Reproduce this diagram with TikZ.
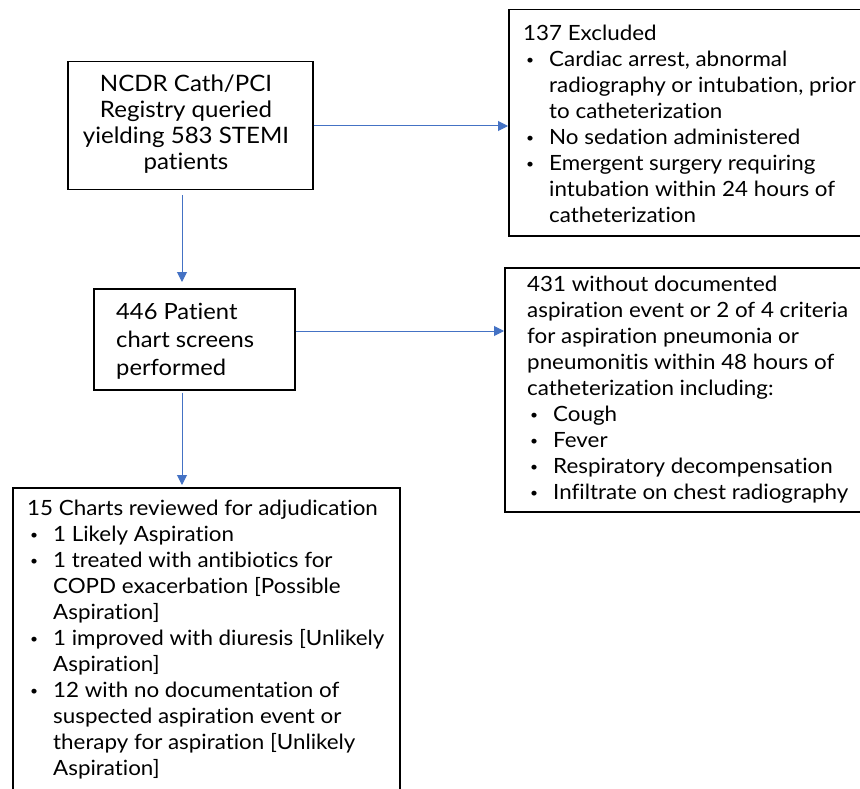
\documentclass[tikz,border=0pt]{standalone}
\usepackage{fontspec}
\setmainfont{Lato}[Ligatures=NoCommon, FakeStretch=1.065]
\usetikzlibrary{arrows.meta}
\definecolor{arrowblue}{HTML}{4472C4}
\newcommand{\fl}{\rule{0pt}{20pt}}
\newcommand{\bl}{\makebox[26pt][l]{\hspace{3pt}\raisebox{2pt}{\fontsize{13}{13}\selectfont\textbullet}}}
\newcommand{\ind}{\makebox[26pt]{}}
\begin{document}
\begin{tikzpicture}[x=1pt,y=-1pt,
  box/.style={draw=black, line width=1.5pt, inner sep=0pt, anchor=north west},
  txt/.style={inner sep=0pt, anchor=north west, align=left, font=\fontsize{21}{26}\selectfont},
  arr/.style={draw=arrowblue, line width=1pt, -{Triangle[length=10pt,width=10pt]}}]
\useasboundingbox (0,0) rectangle (860,789);
\clip (0,0) rectangle (860,789);
\fill[white] (0,0) rectangle (860,789);
% boxes
\node[box, minimum width=245pt, minimum height=128pt] (n1) at (67,61) {};
\node[box, minimum width=400pt, minimum height=226pt] (n2) at (508,9) {};
\node[box, minimum width=201pt, minimum height=101pt] (n3) at (93,288) {};
\node[box, minimum width=400pt, minimum height=244pt] (n4) at (504,267) {};
\node[box, minimum width=387pt, minimum height=340pt] (n5) at (12,487) {};
% texts
\node[txt, anchor=north, align=center, font=\fontsize{22.6}{26}\selectfont] (t1) at (186,71)
  {\fl NCDR Cath/PCI\\Registry queried\\yielding 583 STEMI\\patients};
\node[txt] (t2) at (523,20)
  {\fl 137 Excluded\\
   \bl Cardiac arrest, abnormal\\
   \ind radiography or intubation, prior\\
   \ind to catheterization\\
   \bl No sedation administered\\
   \bl Emergent surgery requiring\\
   \ind intubation within 24 hours of\\
   \ind catheterization};
\node[txt, font=\fontsize{22.3}{28}\selectfont] (t3) at (116,299)
  {\fl 446 Patient\\chart screens\\performed};
\node[txt] (t4) at (527,271)
  {\fl 431 without documented\\
   aspiration event or 2 of 4 criteria\\
   for aspiration pneumonia or\\
   pneumonitis within 48 hours of\\
   catheterization including:\\
   \bl Cough\\
   \bl Fever\\
   \bl Respiratory decompensation\\
   \bl Infiltrate on chest radiography};
\node[txt] (t5) at (27,495)
  {\fl 15 Charts reviewed for adjudication\\
   \bl 1 Likely Aspiration\\
   \bl 1 treated with antibiotics for\\
   \ind COPD exacerbation [Possible\\
   \ind Aspiration]\\
   \bl 1 improved with diuresis [Unlikely\\
   \ind Aspiration]\\
   \bl 12 with no documentation of\\
   \ind suspected aspiration event or\\
   \ind therapy for aspiration [Unlikely\\
   \ind Aspiration]};
% connectors
\coordinate (ax) at (182,0);
\coordinate (ay1) at (0,126);
\coordinate (ay2) at (0,331);
\draw[arr] (n1.east |- ay1) -- (n2.west |- ay1);
\draw[arr, shorten <=5pt, shorten >=6pt] (ax |- n1.south) -- (ax |- n3.north);
\draw[arr] (n3.east |- ay2) -- (n4.west |- ay2);
\draw[arr, shorten <=2pt, shorten >=2pt] (ax |- n3.south) -- (ax |- n5.north);
\end{tikzpicture}
\end{document}
